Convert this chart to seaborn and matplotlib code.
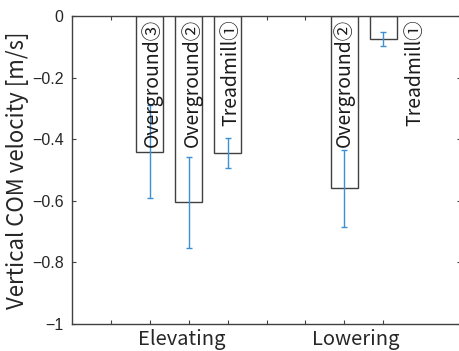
import numpy as np
import pandas as pd
import matplotlib
matplotlib.use('Agg')
import matplotlib.pyplot as plt
import matplotlib.transforms as mtransforms
import seaborn as sns

# dane
pozycje = [2, 3, 4, 7, 8]
etykiety = ['Overground③', 'Overground②', 'Treadmill①', 'Overground②', 'Treadmill①']
srednie = [-0.44, -0.605, -0.445, -0.56, -0.075]
odchylenia = [0.15, 0.148, 0.05, 0.125, 0.022]
grupy = ['Elevating', 'Lowering']
grupy_x = [2.83, 7.3]
etykiety_x = [2.05, 3.08, 4.08, 7.0, 8.82]
y_ticks = [0, -0.2, -0.4, -0.6, -0.8, -1]
y_tick_labels = ['0', '\u22120.2', '\u22120.4', '\u22120.6', '\u22120.8', '\u22121']

df = pd.DataFrame({'poz': pozycje, 'v': srednie})

sns.set_style('white')
plt.rcParams['font.family'] = ['Noto Sans CJK JP', 'DejaVu Sans']

szary = '#404040'
niebieski = '#3d8fd6'

fig = plt.figure(figsize=(4.59, 3.51), dpi=100)
ax = fig.add_axes([72 / 459, 27 / 351, 389 / 459, 308 / 351])
ax.set_axisbelow(True)

sns.barplot(data=df, x='poz', y='v', native_scale=True, width=0.7,
            color='white', edgecolor=szary, linewidth=1.0, ax=ax, errorbar=None)
ax.errorbar(pozycje, srednie, yerr=odchylenia, fmt='none', ecolor=niebieski,
            elinewidth=1.0, capsize=2.5, capthick=1.0, zorder=3)

for x, t in zip(etykiety_x, etykiety):
    ax.text(x, -0.01, t, rotation=90, ha='center', va='top', fontsize=14,
            color='#1a1a1a', zorder=4)

ax.set_xlim(0, 10)
ax.set_ylim(-1, 0)
ax.set_xticks(range(1, 9))
ax.set_xticklabels([''] * 8)
ax.set_yticks(y_ticks)
ax.set_yticklabels(y_tick_labels, family=['Liberation Sans', 'DejaVu Sans'], fontsize=11.5)
ax.tick_params(direction='in', length=3, width=0.8, color=szary, labelcolor='#262626',
               top=True, right=True, bottom=True, left=True, pad=6)
for s in ax.spines.values():
    s.set_color(szary)
    s.set_linewidth(1.0)

tr = mtransforms.blended_transform_factory(ax.transData, ax.transAxes)
for x, g in zip(grupy_x, grupy):
    ax.text(x, -0.015, g, transform=tr, ha='center', va='top', fontsize=14.5,
            color='#262626')

ax.set_xlabel('')
ax.set_ylabel('Vertical COM velocity [m/s]', fontsize=16, color='#262626', labelpad=2)

plt.savefig('out.png', dpi=100)
